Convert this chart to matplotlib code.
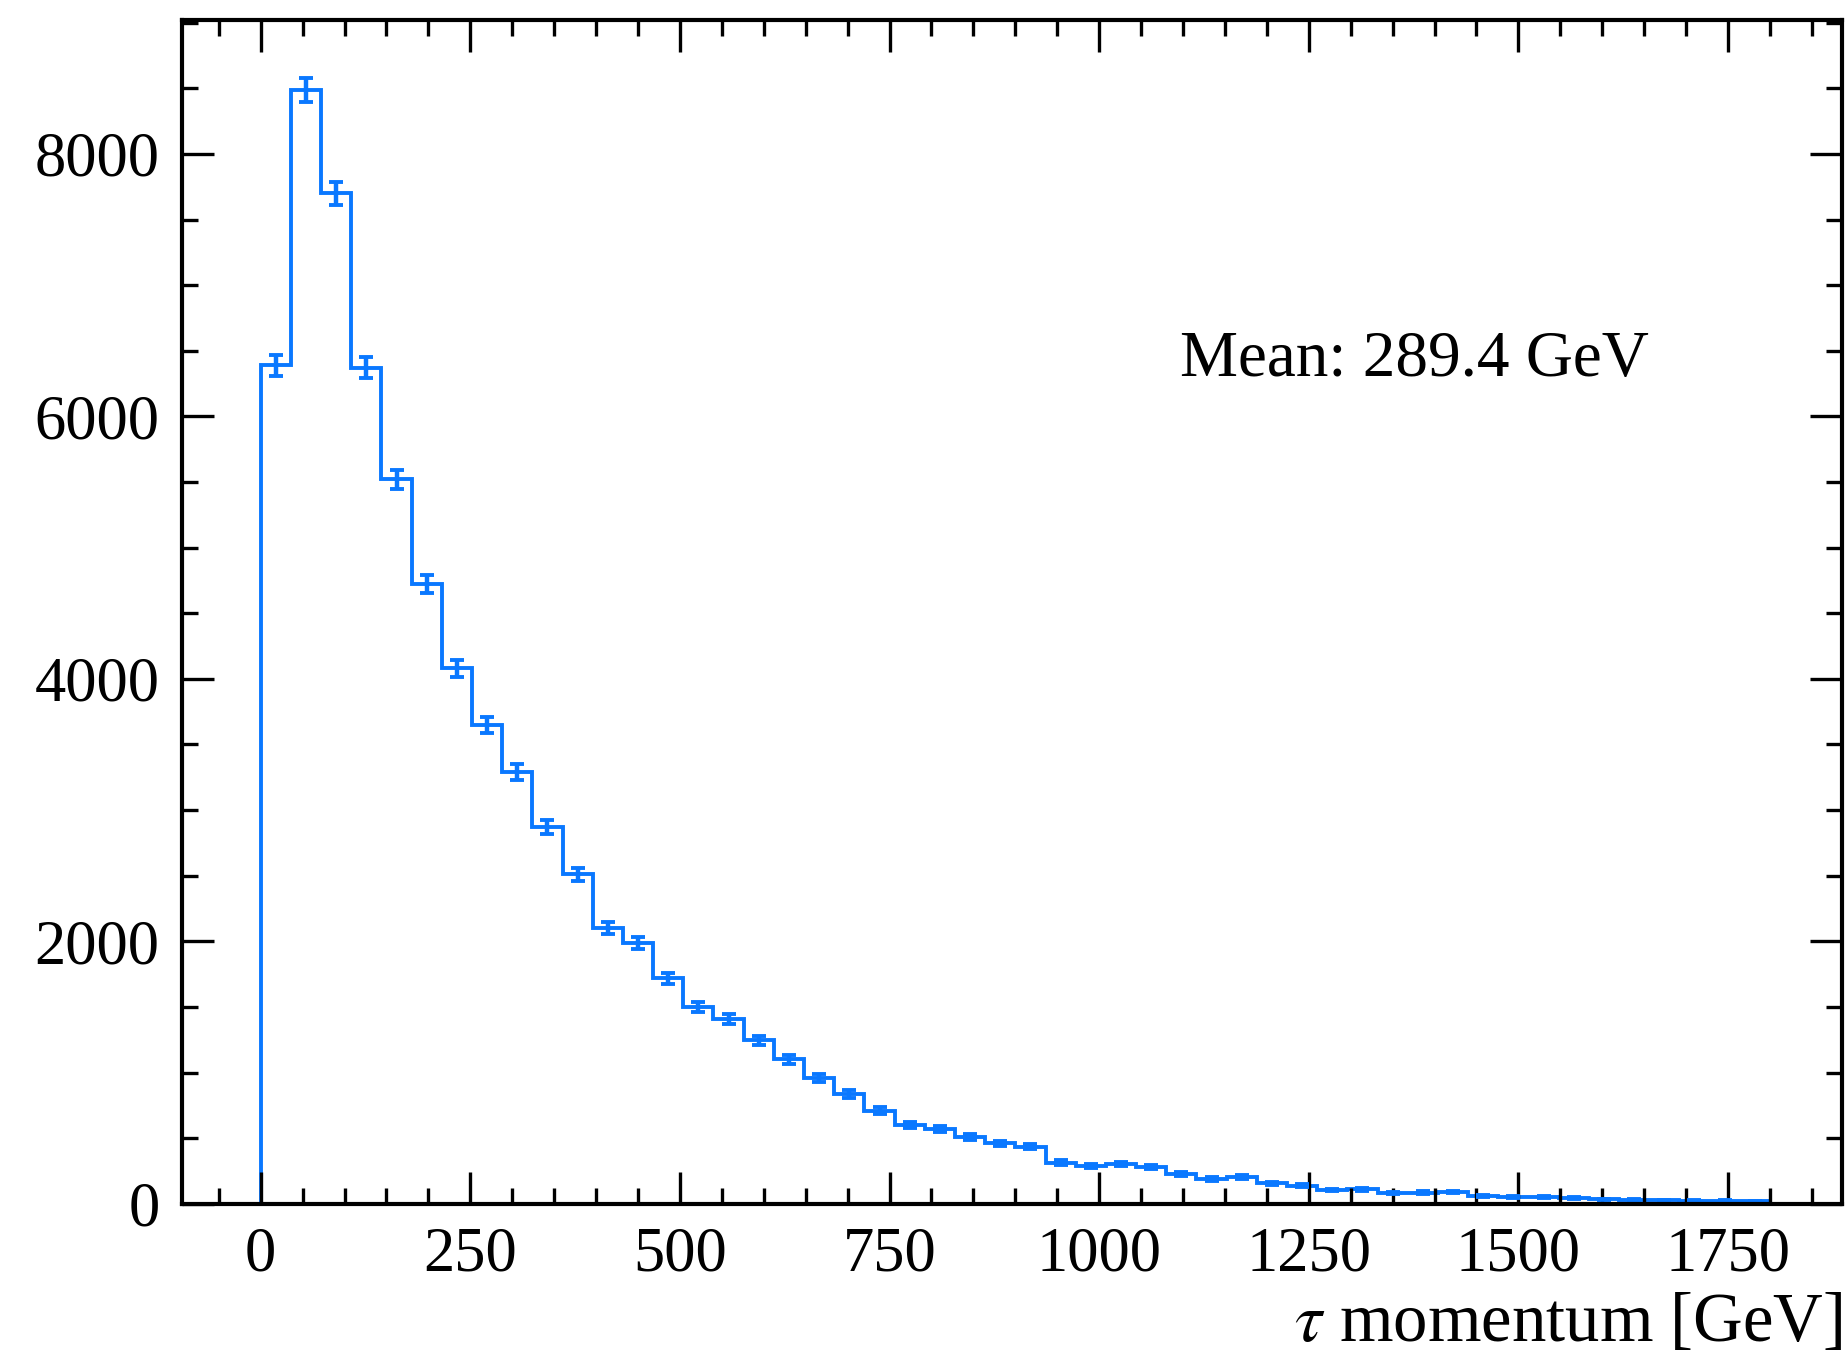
#!/usr/bin/env python3
"""Tau momentum spectrum: step histogram with Poisson error bars."""

# ─── Imports ──────────────────────────────────────────────────
import numpy as np
import matplotlib.pyplot as plt
from matplotlib.ticker import MultipleLocator

# ─── Histogram contents (50 bins, 0–1800 GeV) ─────────────────
bin_edges = np.linspace(0, 1800, 51)
counts = np.array([
    6390, 8490, 7700, 6370, 5520, 4720, 4080, 3650, 3290, 2870,
    2510, 2100, 1985, 1720, 1500, 1410, 1245, 1100,  956,  837,
     710,  601,  570,  507,  460,  435,  313,  288,  303,  278,
     225,  187,  202,  156,  136,  105,  110,   80,   85,   90,
      59,   50,   50,   47,   34,   29,   27,   24,   21,   19,
])
errors = np.sqrt(counts)
mean_momentum = 289.4  # GeV

# ─── Style ────────────────────────────────────────────────────
plt.rcParams.update({
    "font.family": ["Liberation Serif", "DejaVu Serif"],
    "mathtext.fontset": "stix",
    "font.size": 48,
})
colour = "#0a78ff"

fig = plt.figure(figsize=(18.45, 13.55), dpi=100)
ax = fig.add_axes([0.0986, 0.1116, 0.8998, 0.8736])

# ─── Histogram + errors ───────────────────────────────────────
centres = 0.5 * (bin_edges[:-1] + bin_edges[1:])
ax.stairs(counts, bin_edges, color=colour, lw=2.8)
ax.errorbar(centres, counts, yerr=errors, fmt="none", ecolor=colour,
            elinewidth=3.2, capsize=4.7, capthick=2.8)

# ─── Axes ─────────────────────────────────────────────────────
ax.set_xlim(-94, 1886)
ax.set_ylim(0, 9020)
ax.xaxis.set_major_locator(MultipleLocator(250))
ax.xaxis.set_minor_locator(MultipleLocator(50))
ax.yaxis.set_major_locator(MultipleLocator(2000))
ax.yaxis.set_minor_locator(MultipleLocator(500))
ax.tick_params(which="both", direction="in", top=True, right=True,
               width=2.4, labelsize=45, pad=16)
ax.tick_params(which="major", length=23)
ax.tick_params(which="minor", length=11.5)
for spine in ax.spines.values():
    spine.set_linewidth(3)

ax.set_xlabel(r"$\tau$ momentum [GeV]", loc="right", fontsize=49.5,
              labelpad=6)
ax.text(0.601, 0.699, f"Mean: {mean_momentum:.1f} GeV",
        transform=ax.transAxes, fontsize=47)

fig.savefig("out.png", dpi=100)
